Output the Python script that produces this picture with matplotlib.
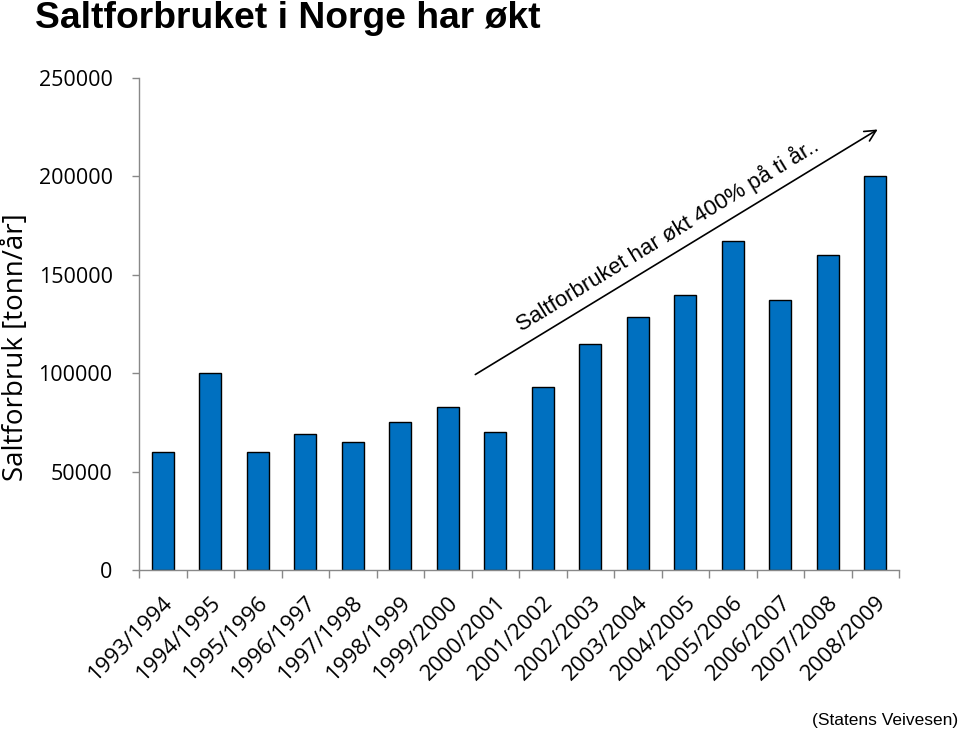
import matplotlib.pyplot as plt
import numpy as np

seasons = ["1993/1994", "1994/1995", "1995/1996", "1996/1997", "1997/1998",
           "1998/1999", "1999/2000", "2000/2001", "2001/2002", "2002/2003",
           "2003/2004", "2004/2005", "2005/2006", "2006/2007", "2007/2008",
           "2008/2009"]
salt = [60000, 100000, 60000, 69000, 65000, 75000, 83000, 70000, 93000,
        115000, 128500, 140000, 167000, 137000, 160000, 200000]
yticks = [0, 50000, 100000, 150000, 200000, 250000]

tick_font = "Open Sans"
fig = plt.figure(figsize=(9.6, 7.32), dpi=100)
ax = fig.add_axes([0.1448, 0.2213, 0.7917, 0.6721])

x = np.arange(len(seasons))
ax.bar(x, salt, width=0.47, color="#0070C0", edgecolor="black", linewidth=1.0)

ax.set_xlim(-0.5, len(seasons) - 0.5)
ax.set_ylim(0, 250000)
ax.set_yticks(yticks)
ax.set_yticklabels([str(v) for v in yticks], fontsize=15.5, family=tick_font)
ax.set_xticks(x)
ax.set_xticklabels(seasons, rotation=45, ha="right", rotation_mode="anchor",
                   fontsize=16, family=tick_font)
ax.tick_params(axis="x", which="major", length=0, pad=16)
ax.set_xticks(np.arange(-0.5, len(seasons)), minor=True)
ax.tick_params(axis="x", which="minor", length=6, color="#888888", width=1)
ax.tick_params(axis="y", length=5, color="#888888", width=1, pad=14)

for side in ["top", "right"]:
    ax.spines[side].set_visible(False)
for side in ["left", "bottom"]:
    ax.spines[side].set_color("#888888")
    ax.spines[side].set_linewidth(1)

ax.set_ylabel("Saltforbruk [tonn/år]", fontsize=20, family=tick_font)
ax.yaxis.set_label_coords(-0.143, 0.453)

ax.annotate("", xy=(15.1, 224600), xytext=(6.53, 98600),
            arrowprops=dict(arrowstyle="->", color="black", lw=1.2,
                            mutation_scale=20))
ax.text(10.62, 170500, "Saltforbruket har økt 400% på ti år..", rotation=31.4,
        ha="center", va="center", fontsize=16, family="Liberation Sans",
        rotation_mode="anchor")

fig.text(0.036, 0.975, "Saltforbruket i Norge har økt", fontsize=26.8,
         fontweight="bold", family="Liberation Sans", ha="left", va="center")
fig.text(0.998, 0.016, "(Statens Veivesen)", fontsize=12.5,
         family="Liberation Sans", ha="right", va="center")

fig.savefig("out.png", dpi=100)
